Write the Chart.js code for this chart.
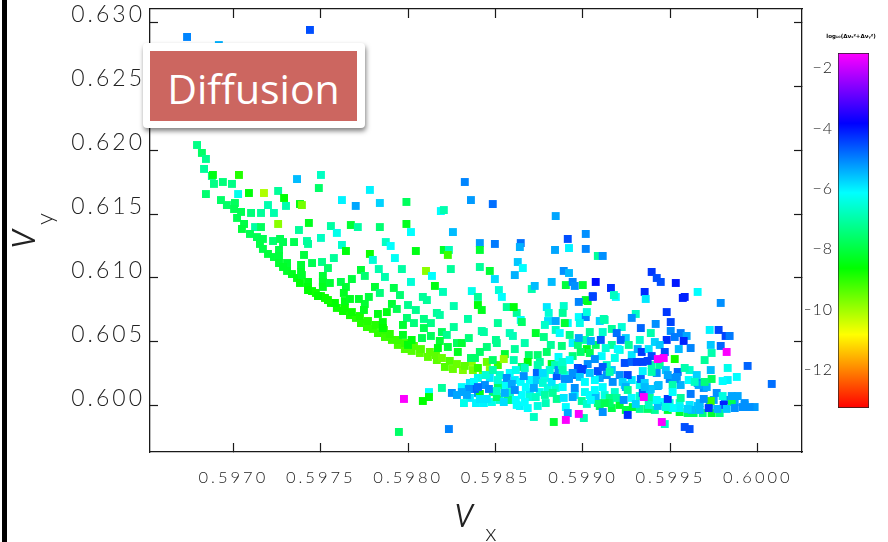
<!DOCTYPE html>
<html>
<head>
<meta charset="utf-8">
<title>Diffusion</title>
<script src="https://cdn.jsdelivr.net/npm/chart.js@4"></script>
<style>
html, body { margin: 0; padding: 0; background: #fff; }
#wrap { position: relative; width: 888px; height: 542px; overflow: hidden; }
#main { position: absolute; left: 0; top: 0; }
#bar { position: absolute; left: 805px; top: 0; }
#edge { position: absolute; left: 2px; top: 0; width: 5px; height: 542px; background: #000; }
#tag { position: absolute; left: 143px; top: 43px; width: 222px; height: 85px; background: #fff; border-radius: 4px; box-shadow: 1px 3px 5px rgba(0,0,0,.5); }
#tag div { position: absolute; left: 7px; top: 8px; width: 207px; height: 70px; background: #cc6660; color: #fff; text-align: center; font: 41px/75px "Open Sans", sans-serif; }
</style>
</head>
<body>
<div id="wrap">
  <canvas id="main" width="888" height="542"></canvas>
  <canvas id="bar" width="83" height="420"></canvas>
  <div id="edge"></div>
  <div id="tag"><div>Diffusion</div></div>
</div>
<script>
// tick labels
var xTicks = [0.597, 0.5975, 0.598, 0.5985, 0.599, 0.5995, 0.6];
var yTicks = [0.6, 0.605, 0.61, 0.615, 0.62, 0.625, 0.63];
var barTicks = [-2, -4, -6, -8, -10, -12];

// colour scale of log10(dnu_x^2 + dnu_y^2)
var mapValues = [-13.13, -10.7, -8.5, -6, -3.7, -1.37];
var mapColours = [[255, 0, 0], [255, 255, 0], [0, 255, 0], [0, 255, 255], [0, 0, 255], [255, 0, 255]];

// trail head and the sparse points above it
var topX = [0.596735, 0.596917, 0.597438, 0.596792, 0.59682, 0.596843, 0.596832, 0.596877,
  0.596883, 0.596889, 0.59694, 0.596992, 0.596843, 0.597032, 0.597027, 0.597089,
  0.597175, 0.597256, 0.59729, 0.597364, 0.597501, 0.597489, 0.597381, 0.597392,
  0.597301, 0.597198, 0.597232, 0.596929, 0.596963, 0.597009, 0.597004, 0.597044,
  0.597101, 0.597158, 0.597021, 0.597061, 0.597049, 0.597124, 0.597158, 0.597256,
  0.597432, 0.597375, 0.597421, 0.597427, 0.597501, 0.597558, 0.597592, 0.597672,
  0.597712, 0.597838, 0.597872, 0.5979, 0.597621, 0.597644, 0.597781, 0.597798,
  0.597924, 0.597621, 0.5977, 0.597781, 0.597838, 0.59799, 0.59799, 0.598016,
  0.598187, 0.598204, 0.598324, 0.598359, 0.598484, 0.598256, 0.598844];
var topY = [0.62883, 0.6282, 0.62938, 0.62039, 0.61977, 0.6193, 0.61852, 0.61797,
  0.61805, 0.61735, 0.6175, 0.61735, 0.61656, 0.61805, 0.61656, 0.61664,
  0.61664, 0.6168, 0.61625, 0.61773, 0.61805, 0.61703, 0.61578, 0.6157,
  0.61563, 0.6157, 0.61508, 0.61609, 0.6157, 0.61586, 0.61539, 0.61516,
  0.61508, 0.61508, 0.61469, 0.61422, 0.61383, 0.61398, 0.61398, 0.61422,
  0.6143, 0.61375, 0.61289, 0.61266, 0.61313, 0.61406, 0.61352, 0.61414,
  0.61398, 0.61398, 0.61281, 0.6125, 0.61258, 0.61211, 0.61188, 0.61141,
  0.61156, 0.61609, 0.61563, 0.61688, 0.61586, 0.61594, 0.61422, 0.61359,
  0.61523, 0.61531, 0.6175, 0.61609, 0.61578, 0.61359, 0.61484];
var topD = [-4.9, -5.3, -4.4, -7.2, -7.5, -7.1, -7, -7.2,
  -8.3, -7.2, -7.3, -7.2, -7.4, -8.8, -6.2, -8.4,
  -10, -7, -8.5, -5.4, -6.6, -7.5, -8.3, -9.5,
  -6.8, -6.8, -6.8, -7.5, -7.5, -7.6, -7.7, -7.7,
  -7.3, -7, -7.7, -7.8, -7.9, -6.9, -7.6, -9.7,
  -8.2, -7, -6.9, -7, -6.6, -6.9, -6.2, -8,
  -6.9, -7.4, -6.6, -6, -6.5, -8.4, -8.6, -6.4,
  -6.1, -5.9, -5.2, -5.9, -5.6, -7.6, -8.2, -6,
  -6, -6.8, -4.9, -5.1, -4.7, -5.4, -5.2];

// lower edge of the trail
var trailX = [0.597095, 0.597135, 0.597169, 0.597227, 0.597267, 0.597284, 0.597347, 0.597152,
  0.597169, 0.597198, 0.597232, 0.597261, 0.597261, 0.597261, 0.597307, 0.597284,
  0.597307, 0.597335, 0.597364, 0.597387, 0.597404, 0.597387, 0.597392, 0.597427,
  0.597427, 0.59745, 0.597472, 0.597501, 0.597524, 0.597558, 0.597592, 0.597627,
  0.597667, 0.597701, 0.59773, 0.597764, 0.597798, 0.597827, 0.597867, 0.597907,
  0.597941, 0.597981, 0.59802, 0.598067, 0.598113, 0.598164, 0.59821, 0.598256,
  0.598313, 0.598364, 0.598427];
var trailY = [0.61344, 0.6132, 0.61305, 0.61289, 0.61305, 0.61281, 0.61281, 0.61266,
  0.61227, 0.61188, 0.61164, 0.61219, 0.61172, 0.61117, 0.61117, 0.61086,
  0.61055, 0.61031, 0.61, 0.61102, 0.6118, 0.61047, 0.61023, 0.60969,
  0.6093, 0.60898, 0.60883, 0.60859, 0.60844, 0.60805, 0.60766, 0.60742,
  0.6071, 0.60688, 0.60648, 0.60617, 0.60602, 0.6057, 0.60539, 0.60516,
  0.60477, 0.60445, 0.6043, 0.60414, 0.60383, 0.60359, 0.60305, 0.60289,
  0.60281, 0.60344, 0.60242];
var trailD = [-7.7, -7.7, -7.7, -7.4, -7.7, -7.7, -7.7, -7.8,
  -7.8, -7.9, -7.9, -7.8, -7.9, -8, -8, -8.1,
  -8.1, -8.2, -8.3, -8, -7.9, -8.1, -8.1, -8.3,
  -8.4, -8.5, -8.6, -8.6, -8.6, -8.5, -8.6, -8.6,
  -8.7, -8.8, -8.8, -8.9, -8.9, -8.9, -9, -9,
  -9.1, -9.2, -9.2, -9.3, -9.3, -9.3, -9.2, -9.4,
  -9.6, -9.7, -9.5];

// thicker part of the trail near its end
var tailX = [0.597941, 0.597981, 0.598033, 0.598073, 0.598124, 0.598159, 0.598193, 0.598238,
  0.598279, 0.598324, 0.59837, 0.598399, 0.59845, 0.598467, 0.598513, 0.597724,
  0.59777, 0.597815, 0.597861, 0.597895, 0.597638, 0.597678, 0.597581, 0.597541,
  0.597484, 0.597427, 0.597381];
var tailY = [0.60516, 0.60492, 0.60469, 0.60445, 0.60422, 0.60398, 0.60375, 0.60352,
  0.60328, 0.60313, 0.60281, 0.60297, 0.60344, 0.60281, 0.6032, 0.60703,
  0.60664, 0.60633, 0.60594, 0.60563, 0.60766, 0.60734, 0.60805, 0.60828,
  0.60859, 0.60906, 0.60961];
var tailD = [-9, -9, -9.2, -9.2, -9.3, -9.3, -9.4, -9.2,
  -9.4, -9.3, -9.5, -8.9, -9.4, -9.7, -9, -8.7,
  -8.8, -8.8, -8.9, -8.9, -8.6, -8.6, -8.5, -8.6,
  -8.5, -8.5, -8.4];

// points between the trail and the upper scatter
var fillX = [0.59745, 0.597507, 0.597541, 0.597575, 0.597512, 0.597512, 0.597512, 0.597552,
  0.597615, 0.597644, 0.597632, 0.597638, 0.597678, 0.59773, 0.597752, 0.597832,
  0.597867, 0.597964, 0.59781, 0.597838, 0.597918, 0.597953, 0.597775, 0.597752,
  0.597718, 0.597667, 0.597747, 0.597907, 0.597935, 0.597999, 0.597993, 0.597878,
  0.597827, 0.597855, 0.597855, 0.59797, 0.59797, 0.597999, 0.598016, 0.598102,
  0.598136, 0.598244, 0.598153, 0.598199, 0.598364, 0.59841, 0.598467, 0.598496,
  0.59861, 0.598627, 0.598656, 0.598519, 0.598536, 0.598399, 0.598084, 0.598107,
  0.598044, 0.598204, 0.598233, 0.598227, 0.59841, 0.59841, 0.598496, 0.598644,
  0.598639, 0.598913, 0.599016, 0.599016, 0.59892, 0.59884, 0.599085, 0.599113,
  0.598707, 0.598724, 0.598821, 0.59889, 0.59892, 0.598902, 0.598941, 0.598999,
  0.598953, 0.599073, 0.599056, 0.599016];
var fillY = [0.61117, 0.61125, 0.61078, 0.61156, 0.61016, 0.60969, 0.6093, 0.60961,
  0.60969, 0.6093, 0.60883, 0.6082, 0.60992, 0.61063, 0.61016, 0.6107,
  0.61008, 0.6107, 0.6093, 0.60883, 0.60922, 0.60867, 0.60852, 0.60797,
  0.60836, 0.60836, 0.6075, 0.60797, 0.60758, 0.60789, 0.60688, 0.60734,
  0.60719, 0.60656, 0.60609, 0.60633, 0.60555, 0.60477, 0.60969, 0.61055,
  0.61016, 0.6107, 0.60938, 0.60891, 0.60898, 0.61086, 0.61055, 0.60992,
  0.61023, 0.61125, 0.61078, 0.60906, 0.60852, 0.60852, 0.60852, 0.60828,
  0.61211, 0.61219, 0.61219, 0.6118, 0.61273, 0.61219, 0.61266, 0.61273,
  0.61242, 0.61305, 0.61344, 0.61227, 0.61234, 0.61219, 0.61172, 0.61172,
  0.60914, 0.60938, 0.60969, 0.61055, 0.61039, 0.60945, 0.60969, 0.60945,
  0.60938, 0.60969, 0.60859, 0.60828];
var fillD = [-7.7, -7.2, -7.5, -7, -8, -8.1, -8.2, -8,
  -7.8, -8, -8.2, -8.3, -7.9, -8, -7.4, -6.8,
  -6.8, -6.9, -8, -7.3, -7.8, -7.4, -7.9, -8,
  -8.1, -8.2, -8.2, -8, -7.7, -7.1, -7.4, -8.3,
  -8.3, -8.4, -8.5, -8, -8.2, -8.4, -6.4, -9.7,
  -6, -7, -8.3, -6.7, -6.2, -7, -8, -5.7,
  -5.3, -5.5, -6, -6.4, -6, -7, -7, -7,
  -8.3, -8.1, -6.7, -9, -5.1, -8, -4.8, -4.7,
  -5.3, -4.4, -5, -4.9, -5.9, -5.2, -7, -5,
  -6.8, -5.4, -5.4, -5, -5.4, -7.9, -4.9, -8,
  -5, -3.8, -4.4, -8];

// middle band, from the end of the trail towards the right
var midX = [0.598044, 0.59809, 0.59813, 0.598033, 0.598164, 0.598181, 0.598261, 0.598342,
  0.598261, 0.598193, 0.598221, 0.59813, 0.59809, 0.598079, 0.59802, 0.598181,
  0.59817, 0.598227, 0.598279, 0.598307, 0.598284, 0.598347, 0.598421, 0.598433,
  0.598513, 0.598502, 0.598507, 0.598581, 0.598599, 0.598667, 0.59873, 0.598776,
  0.598816, 0.598879, 0.598941, 0.598793, 0.59861, 0.598741, 0.59869, 0.598553,
  0.598604, 0.59845, 0.59841, 0.598359, 0.598382, 0.598547, 0.598484, 0.598753,
  0.598684, 0.598821, 0.59865, 0.59886, 0.598884, 0.598941, 0.598913, 0.5988,
  0.598844, 0.598793, 0.59889, 0.598804, 0.598884, 0.598976, 0.599027, 0.599056,
  0.598976, 0.599016, 0.599022, 0.598982, 0.598896, 0.599096, 0.599119, 0.598621,
  0.598564, 0.598399, 0.598421, 0.598604, 0.598644, 0.59865];
var midY = [0.6075, 0.6068, 0.60648, 0.60648, 0.60727, 0.60711, 0.60781, 0.6068,
  0.60617, 0.60578, 0.60555, 0.60547, 0.60609, 0.60531, 0.60516, 0.60508,
  0.60453, 0.60461, 0.60492, 0.60492, 0.60422, 0.60531, 0.60586, 0.60578,
  0.60648, 0.60516, 0.60492, 0.6057, 0.60547, 0.60492, 0.6057, 0.60539,
  0.60477, 0.60469, 0.60492, 0.60422, 0.60445, 0.60398, 0.60398, 0.60406,
  0.60359, 0.60461, 0.60422, 0.60375, 0.60375, 0.60367, 0.60359, 0.60344,
  0.60344, 0.60328, 0.60305, 0.60383, 0.60344, 0.6039, 0.60648, 0.60664,
  0.60664, 0.60773, 0.60781, 0.60727, 0.60727, 0.60813, 0.6082, 0.60852,
  0.60695, 0.60695, 0.60734, 0.60648, 0.60648, 0.60664, 0.6068, 0.60727,
  0.60773, 0.60789, 0.6075, 0.60773, 0.60672, 0.60656];
var midD = [-7.1, -7.2, -7.2, -7.3, -7, -6.9, -6.8, -6.9,
  -7, -7.6, -7.1, -7.6, -7.7, -7.7, -8.4, -8,
  -8.3, -7.9, -7.6, -8, -8.2, -7.3, -6.9, -6.9,
  -7, -7.1, -7.1, -6.7, -6.7, -6.8, -8.1, -7.2,
  -7, -7.3, -5.9, -7.5, -7, -7.4, -7.5, -8,
  -6.8, -7.3, -7.5, -7.5, -7.5, -9.8, -7.5, -7,
  -8.4, -8.2, -7.5, -6, -6.5, -7.3, -6, -5.7,
  -5.2, -5.8, -6.5, -6.4, -7, -4.9, -8.2, -4.3,
  -6, -4.9, -6.3, -6.2, -8, -5.6, -6.8, -7,
  -7, -8.4, -8.2, -8.4, -6, -7.5];

// cyan crowd in the left half of the lower band
var crowdX = [0.598353, 0.598388, 0.598433, 0.598479, 0.598524, 0.598581, 0.59865, 0.598696,
  0.598753, 0.598799, 0.598639, 0.598684, 0.598741, 0.598844, 0.598467, 0.598524,
  0.598444, 0.598399, 0.598696, 0.598782, 0.59861, 0.598553, 0.598667, 0.598741,
  0.59884, 0.598896, 0.598953, 0.599011, 0.598782, 0.598827, 0.598581, 0.598399,
  0.59825, 0.598353];
var crowdY = [0.60063, 0.60023, 0.60023, 0.60031, 0.60047, 0.60063, 0.60086, 0.60109,
  0.60109, 0.60141, 0.6, 0.59984, 0.6, 0.60141, 0.60219, 0.60242,
  0.60242, 0.60219, 0.60203, 0.60219, 0.60203, 0.60164, 0.60297, 0.6032,
  0.6032, 0.60242, 0.60086, 0.60109, 0.60086, 0.60102, 0.60047, 0.60102,
  0.60102, 0.6018];
var crowdD = [-5.8, -5.9, -5.9, -6.2, -6.5, -6.6, -6, -5.8,
  -6.2, -6.3, -5.9, -6, -6.3, -6.5, -5.8, -6.5,
  -6.4, -6.2, -6, -6.3, -5.8, -6, -6.6, -6.8,
  -6.7, -6.3, -5.8, -6.1, -6.9, -7, -7.2, -5,
  -5, -5.8];

// crowd in the right half of the lower band
var packX = [0.599096, 0.599165, 0.59921, 0.599245, 0.599411, 0.599553, 0.599599, 0.599782,
  0.599925, 0.599982, 0.59961, 0.599656, 0.599725, 0.599811, 0.599748, 0.599668,
  0.599868, 0.599925, 0.599553, 0.599496, 0.599451, 0.599411, 0.599382, 0.599325,
  0.599279, 0.599182, 0.599124, 0.599085, 0.599153, 0.599039, 0.599325, 0.599279,
  0.59921, 0.599165, 0.599096, 0.599439, 0.599393, 0.599279, 0.599182, 0.599136,
  0.59921, 0.59961, 0.599651, 0.599696, 0.599325, 0.599411, 0.599245, 0.599165,
  0.599073, 0.599011, 0.598924, 0.598844, 0.598782, 0.598971, 0.599039];
var packY = [0.6, 0.59984, 0.60008, 0.59969, 0.59969, 0.59953, 0.59945, 0.59945,
  0.60008, 0.59992, 0.60008, 0.6, 0.60008, 0.60047, 0.60047, 0.60023,
  0.60031, 0.60023, 0.60023, 0.60023, 0.60031, 0.60047, 0.60063, 0.60078,
  0.60063, 0.60109, 0.60086, 0.60023, 0.60063, 0.60086, 0.60164, 0.60203,
  0.60242, 0.60281, 0.60219, 0.6032, 0.6032, 0.60398, 0.60375, 0.6032,
  0.60438, 0.60281, 0.60242, 0.60359, 0.60516, 0.605, 0.60531, 0.60477,
  0.60477, 0.60516, 0.60555, 0.60594, 0.60633, 0.60477, 0.60578];
var packD = [-7.6, -7.8, -8, -7.8, -7, -8, -7.5, -7.2,
  -5.5, -5.1, -5.8, -5.5, -5.2, -5, -5.2, -5.4,
  -5.2, -5, -6.2, -6.3, -6, -6.2, -7, -6.5,
  -6, -6.5, -6.3, -7.3, -7.2, -6, -6.2, -5.8,
  -5, -5.5, -5.2, -7, -6.8, -5.8, -6.2, -6.6,
  -6.3, -6.5, -5.6, -7, -6.5, -5.6, -5.6, -7,
  -7.5, -6.8, -7.2, -6.6, -6.5, -7.3, -7];

// right hand scatter
var rightX = [0.59916, 0.599188, 0.599177, 0.599353, 0.599359, 0.599393, 0.599422, 0.599445,
  0.599531, 0.599582, 0.599571, 0.599656, 0.599788, 0.599479, 0.599302, 0.599279,
  0.599502, 0.599416, 0.599124, 0.599222, 0.599165, 0.599331, 0.599388, 0.599113,
  0.599502, 0.599193, 0.599725, 0.599776, 0.599816, 0.599839, 0.599559, 0.599593,
  0.599525, 0.599479, 0.599576, 0.599216, 0.599102, 0.599045, 0.598976, 0.598867,
  0.599262, 0.59913, 0.599199, 0.599313, 0.599336, 0.599439, 0.599468, 0.599548,
  0.599616, 0.599376, 0.599731, 0.599788, 0.599736, 0.599393, 0.599525, 0.599107,
  0.599022, 0.598987, 0.599039];
var rightY = [0.60922, 0.60852, 0.60867, 0.60891, 0.60836, 0.61047, 0.61, 0.60969,
  0.60961, 0.60852, 0.60844, 0.60891, 0.60805, 0.60734, 0.60719, 0.60688,
  0.60656, 0.60641, 0.60672, 0.60617, 0.60602, 0.60609, 0.6057, 0.60578,
  0.60586, 0.6057, 0.60594, 0.60594, 0.60547, 0.60547, 0.6057, 0.60547,
  0.60539, 0.60516, 0.60508, 0.60516, 0.60516, 0.60508, 0.60531, 0.6057,
  0.60477, 0.60453, 0.60445, 0.60445, 0.60422, 0.60477, 0.60422, 0.60445,
  0.60453, 0.60445, 0.60477, 0.60469, 0.60414, 0.6039, 0.60367, 0.6039,
  0.60445, 0.60422, 0.60414];
var rightD = [-4.1, -6, -6.6, -4.1, -5.8, -4.2, -4.4, -4.4,
  -3.9, -4, -4, -6, -5, -4.2, -6.6, -5,
  -4.3, -5, -6.8, -6.4, -7, -4.6, -6.8, -6.5,
  -5, -4.7, -5.9, -4.3, -4.3, -4.8, -4.8, -5.2,
  -4.8, -4.1, -4, -4.6, -4.5, -5.3, -5.2, -6,
  -7, -6.4, -6, -5.3, -4.2, -5.5, -4.4, -5.4,
  -4.9, -5.8, -5.5, -4.6, -6.8, -4.4, -8.6, -6,
  -8.3, -7.5, -7.7];

// dense cluster on the left of the lower band
var westX = [0.598119, 0.598119, 0.598084, 0.598193, 0.59841, 0.598507, 0.59857, 0.598513,
  0.598484, 0.598319, 0.598376, 0.598307, 0.598507, 0.598513, 0.598484, 0.598581,
  0.598616, 0.598644, 0.598673, 0.598696, 0.59873, 0.598787, 0.59885, 0.598719,
  0.598581, 0.598382, 0.598347, 0.598307, 0.598279, 0.598336, 0.598439, 0.598462,
  0.598399, 0.59841, 0.59845, 0.598564, 0.598593, 0.59861, 0.598553, 0.598547,
  0.598661, 0.598719, 0.598736, 0.598736, 0.59877, 0.598616, 0.598621, 0.598667,
  0.598821, 0.59885, 0.59886, 0.59892, 0.598953, 0.598941, 0.59889, 0.598902,
  0.598913, 0.598884, 0.598965, 0.598971, 0.598924, 0.59881, 0.59877, 0.598879,
  0.598884];
var westY = [0.60109, 0.6007, 0.60039, 0.60141, 0.60094, 0.6007, 0.60047, 0.60164,
  0.60109, 0.60023, 0.60188, 0.60148, 0.60117, 0.60203, 0.60281, 0.60258,
  0.60281, 0.60188, 0.60148, 0.6007, 0.6007, 0.60023, 0.60055, 0.59914,
  0.60109, 0.60133, 0.60133, 0.60109, 0.60086, 0.60086, 0.60164, 0.60133,
  0.60148, 0.60055, 0.60055, 0.60219, 0.60172, 0.60125, 0.60102, 0.60031,
  0.60234, 0.60141, 0.60258, 0.60203, 0.6018, 0.60047, 0.60008, 0.60031,
  0.60188, 0.60234, 0.60281, 0.60211, 0.60141, 0.6007, 0.60063, 0.59992,
  0.59945, 0.60148, 0.60242, 0.60297, 0.60359, 0.60281, 0.60258, 0.6032,
  0.60281];
var westD = [-6, -8.4, -8.5, -7, -8.3, -7.5, -7.3, -7.5,
  -7.5, -6.2, -6, -6, -6.6, -6.4, -6.8, -6,
  -6.2, -6, -6, -6.4, -6.6, -6.7, -7.1, -6.6,
  -6.5, -4.6, -5, -5.2, -5.2, -5.2, -5, -4.9,
  -4.7, -5.8, -5.8, -5, -5.2, -5, -5.3, -5.7,
  -5, -5.2, -4.6, -5.5, -6.4, -6, -6, -6,
  -5.8, -4.5, -5, -5, -5, -5.2, -5.8, -6,
  -5.2, -6, -4.8, -4.3, -6, -6.4, -5.7, -6.5,
  -6.8];

// lower band and the cluster on its right
var bandX = [0.599153, 0.599124, 0.599193, 0.599285, 0.599325, 0.59937, 0.599485, 0.599685,
  0.599736, 0.599633, 0.599559, 0.599731, 0.599851, 0.599068, 0.599027, 0.598971,
  0.598999, 0.599085, 0.599113, 0.599136, 0.59917, 0.599239, 0.599279, 0.599308,
  0.599342, 0.59937, 0.599256, 0.599331, 0.599422, 0.599342, 0.599474, 0.599542,
  0.599508, 0.599537, 0.599582, 0.599428, 0.599559, 0.599656, 0.599691, 0.599731,
  0.599736, 0.599828, 0.599828, 0.59988, 0.599799, 0.599765, 0.599616, 0.599691,
  0.599851, 0.599885, 0.599719, 0.599868, 0.599805, 0.599953, 0.599913, 0.599822,
  0.59977, 0.599668, 0.599622, 0.599599, 0.599553, 0.599513, 0.599474, 0.599428,
  0.599376, 0.599302, 0.599233, 0.599799, 0.599708, 0.599662, 0.599696, 0.599942,
  0.60008, 0.599496, 0.599525, 0.599513, 0.599605, 0.599639, 0.599433, 0.599393,
  0.599353, 0.599239, 0.599342, 0.599388, 0.599485, 0.599256, 0.599113, 0.599073,
  0.599113, 0.599068, 0.599468, 0.599582, 0.59961, 0.599068, 0.598896, 0.598993,
  0.598941, 0.598982, 0.599039, 0.599011, 0.599227, 0.599245, 0.599256, 0.599382,
  0.599422, 0.599513, 0.599353, 0.599485, 0.599153, 0.598993, 0.599022, 0.599045];
var bandY = [0.60023, 0.60023, 0.60063, 0.59992, 0.59977, 0.59977, 0.59969, 0.59945,
  0.59945, 0.59945, 0.60063, 0.60039, 0.60031, 0.60367, 0.60328, 0.60289,
  0.60289, 0.60273, 0.60305, 0.60242, 0.60188, 0.60336, 0.60344, 0.60344,
  0.60344, 0.60352, 0.60242, 0.60211, 0.60258, 0.60273, 0.60281, 0.60266,
  0.60219, 0.60227, 0.60297, 0.60156, 0.60164, 0.6018, 0.60141, 0.60281,
  0.60211, 0.60297, 0.60203, 0.60227, 0.60195, 0.60102, 0.60094, 0.60055,
  0.60078, 0.60078, 0.59984, 0.59984, 0.60008, 0.59992, 0.59992, 0.59977,
  0.59977, 0.59969, 0.59969, 0.59977, 0.59984, 0.59984, 0.59992, 0.6,
  0.60008, 0.60016, 0.60047, 0.60078, 0.60148, 0.60164, 0.60188, 0.60313,
  0.60172, 0.60211, 0.60211, 0.60164, 0.60203, 0.60188, 0.60164, 0.60266,
  0.6018, 0.60164, 0.60102, 0.60133, 0.60055, 0.5993, 0.59953, 0.60078,
  0.60148, 0.60203, 0.59859, 0.59836, 0.5982, 0.60125, 0.60211, 0.60281,
  0.60258, 0.60227, 0.60258, 0.60188, 0.60188, 0.60148, 0.60125, 0.60125,
  0.60047, 0.60109, 0.60148, 0.60242, 0.60266, 0.60039, 0.60016, 0.60047];
var bandD = [-7.5, -7.7, -7, -8, -7, -7.5, -8, -7.3,
  -8, -7.6, -7, -9, -7.7, -5, -5, -4.4,
  -4.3, -4.4, -4.5, -5, -5, -4.4, -4.6, -4.3,
  -4.3, -4.3, -4.3, -4.6, -5, -5.9, -5.5, -4.6,
  -5, -5, -6.8, -5.3, -5.3, -5, -5, -5.4,
  -7.6, -6.2, -5.9, -6, -6, -5, -4.8, -5,
  -5.2, -5.2, -4.2, -5, -4, -5, -5, -5.5,
  -5.3, -5.4, -5.4, -5.6, -5.9, -6, -6.3, -5.4,
  -6.6, -5.6, -5, -6.3, -5.3, -5.2, -7.3, -4.6,
  -4.7, -4.9, -5, -6.8, -6, -6.6, -5.4, -6.8,
  -5.6, -5.7, -4.5, -5.5, -4.2, -4.1, -5, -5.4,
  -6, -6, -6.6, -4.4, -4.4, -6, -5, -4.3,
  -5, -5.5, -5.5, -6, -5.6, -5.3, -7, -5.5,
  -6, -6, -5.4, -5.2, -6.8, -7, -6.5, -6];

// small group at the very bottom and the magenta points, drawn last
var lastX = [0.597947, 0.598233, 0.598833, 0.599005, 0.599822, 0.599428, 0.599462, 0.599348,
  0.599451, 0.597976, 0.598902, 0.598976];
var lastY = [0.59797, 0.5982, 0.59875, 0.59906, 0.60422, 0.60367, 0.60375, 0.6007,
  0.59875, 0.60055, 0.59891, 0.59938];
var lastD = [-7.5, -4.9, -8, -6.8, -1.4, -1.4, -1.4, -1.4,
  -1.4, -1.4, -1.4, -1.4];

var nuX = topX.concat(trailX, tailX, fillX, midX, crowdX, packX, rightX, westX, bandX, lastX);
var nuY = topY.concat(trailY, tailY, fillY, midY, crowdY, packY, rightY, westY, bandY, lastY);
var logD = topD.concat(trailD, tailD, fillD, midD, crowdD, packD, rightD, westD, bandD, lastD);

function colourOf(v) {
    var i = 0;
    while (i < mapValues.length - 2 && v > mapValues[i + 1]) i++;
    var t = (v - mapValues[i]) / (mapValues[i + 1] - mapValues[i]);
    t = Math.max(0, Math.min(1, t));
    var a = mapColours[i], b = mapColours[i + 1];
    return "rgb(" + Math.round(a[0] + (b[0] - a[0]) * t) + "," + Math.round(a[1] + (b[1] - a[1]) * t) + "," + Math.round(a[2] + (b[2] - a[2]) * t) + ")";
}

var points = nuX.map(function (x, i) { return { x: x, y: nuY[i] }; });
var textColour = "#222";
var lineColour = "#1a1a1a";

function setTicks(list) {
    return function (scale) {
        scale.ticks = list.map(function (v) { return { value: v }; });
    };
}

// spaced out tick text and the nu titles
var spacing = {
    id: "spacing",
    beforeDraw: function (chart) { chart.ctx.letterSpacing = chart.options.plugins.spacing.gap; },
    afterDraw: function (chart) { chart.ctx.letterSpacing = "0px"; }
};

var nuTitles = {
    id: "nuTitles",
    afterDraw: function (chart) {
        var c = chart.ctx;
        c.save();
        c.letterSpacing = "0px";
        c.fillStyle = textColour;
        c.textAlign = "center";
        c.textBaseline = "alphabetic";
        c.font = "italic 300 42px Roboto";
        c.fillText("\u03bd", 464, 527);
        c.font = "300 24px Lato";
        c.fillText("x", 491, 541);
        c.translate(35, 239);
        c.rotate(-Math.PI / 2);
        c.font = "italic 300 42px Roboto";
        c.fillText("\u03bd", 0, 0);
        c.restore();
        c.save();
        c.letterSpacing = "0px";
        c.fillStyle = textColour;
        c.textAlign = "center";
        c.translate(53, 219);
        c.rotate(-Math.PI / 2);
        c.font = "300 24px Lato";
        c.fillText("y", 0, 0);
        c.restore();
    }
};

new Chart(document.getElementById("main"), {
    type: "scatter",
    data: {
        datasets: [{
            data: points,
            pointStyle: "rect",
            pointRadius: 5.6,
            pointBorderWidth: 0,
            pointBackgroundColor: logD.map(colourOf)
        }]
    },
    options: {
        responsive: false,
        animation: false,
        events: [],
        layout: { padding: { left: 0, right: 86, top: 9, bottom: 0 } },
        plugins: { legend: { display: false }, tooltip: { enabled: false }, spacing: { gap: "3px" } },
        scales: {
            x: {
                type: "linear",
                position: "bottom",
                min: 0.596523,
                max: 0.600253,
                afterFit: function (s) { s.height = 90; },
                afterBuildTicks: setTicks(xTicks),
                border: { color: lineColour, width: 1.3 },
                grid: { drawOnChartArea: false, tickLength: -9, tickColor: lineColour, tickWidth: 1.2 },
                ticks: {
                    padding: 25,
                    maxRotation: 0,
                    autoSkip: false,
                    color: textColour,
                    font: { family: "Lato", size: 16.5, weight: "300" },
                    callback: function (v) { return v.toFixed(4); }
                }
            },
            y: {
                type: "linear",
                position: "left",
                min: 0.596406,
                max: 0.631016,
                afterFit: function (s) { s.width = 150; s.paddingTop = 0; s.paddingBottom = 0; },
                afterBuildTicks: setTicks(yTicks),
                border: { color: lineColour, width: 1.3 },
                grid: { drawOnChartArea: false, tickLength: -8, tickColor: lineColour, tickWidth: 1.2 },
                ticks: {
                    padding: 13,
                    labelOffset: -7,
                    autoSkip: false,
                    color: textColour,
                    font: { family: "Lato", size: 23, weight: "300" },
                    callback: function (v) { return v.toFixed(3); }
                }
            },
            xTop: {
                type: "linear",
                position: "top",
                min: 0.596523,
                max: 0.600253,
                afterFit: function (s) { s.height = 0; },
                afterBuildTicks: setTicks(xTicks),
                border: { color: lineColour, width: 1.3 },
                grid: { drawOnChartArea: false, tickLength: -9, tickColor: lineColour, tickWidth: 1.2 },
                ticks: { display: false }
            },
            yRight: {
                type: "linear",
                position: "right",
                min: 0.596406,
                max: 0.631016,
                afterFit: function (s) { s.width = 0; s.paddingTop = 0; s.paddingBottom = 0; },
                afterBuildTicks: setTicks(yTicks),
                border: { color: lineColour, width: 1.3 },
                grid: { drawOnChartArea: false, tickLength: -8, tickColor: lineColour, tickWidth: 1.2 },
                ticks: { display: false }
            }
        }
    },
    plugins: [spacing, nuTitles]
});

// colour bar
var barLabel = {
    id: "barLabel",
    afterDraw: function (chart) {
        var c = chart.ctx;
        c.save();
        c.letterSpacing = "0px";
        c.fillStyle = "#000";
        c.textAlign = "center";
        c.font = "bold 5.5px 'DejaVu Sans'";
        c.fillText("log\u2081\u2080(\u0394\u03bd\u2093\u00b2+\u0394\u03bd\u1d67\u00b2)", 46, 38);
        c.restore();
    }
};

new Chart(document.getElementById("bar"), {
    type: "bar",
    data: {
        labels: [""],
        datasets: [{
            data: [[mapValues[0], mapValues[mapValues.length - 1]]],
            barPercentage: 1,
            categoryPercentage: 1,
            borderWidth: 1,
            borderColor: "#222",
            borderSkipped: false,
            backgroundColor: function (ctx) {
                var area = ctx.chart.chartArea;
                if (!area) return "#fff";
                var scale = ctx.chart.scales.y;
                var g = ctx.chart.ctx.createLinearGradient(0, area.bottom, 0, area.top);
                mapValues.forEach(function (v, i) {
                    var c = mapColours[i];
                    g.addColorStop((v - scale.min) / (scale.max - scale.min), "rgb(" + c.join(",") + ")");
                });
                return g;
            }
        }]
    },
    options: {
        responsive: false,
        animation: false,
        events: [],
        layout: { padding: { left: 0, right: 19, top: 53, bottom: 12 } },
        plugins: { legend: { display: false }, tooltip: { enabled: false }, spacing: { gap: "1px" } },
        scales: {
            x: { display: false },
            y: {
                type: "linear",
                min: mapValues[0],
                max: mapValues[mapValues.length - 1],
                afterFit: function (s) { s.width = 33; s.paddingTop = 0; s.paddingBottom = 0; },
                afterBuildTicks: setTicks(barTicks),
                border: { display: false },
                grid: { drawOnChartArea: false, tickLength: -3, tickColor: "#222", tickWidth: 1 },
                ticks: {
                    padding: 8,
                    labelOffset: -4,
                    autoSkip: false,
                    color: textColour,
                    font: { family: "Lato", size: 16, weight: "300" },
                    callback: function (v) { return "\u2212" + Math.abs(v); }
                }
            }
        }
    },
    plugins: [spacing, barLabel]
});
</script>
</body>
</html>
